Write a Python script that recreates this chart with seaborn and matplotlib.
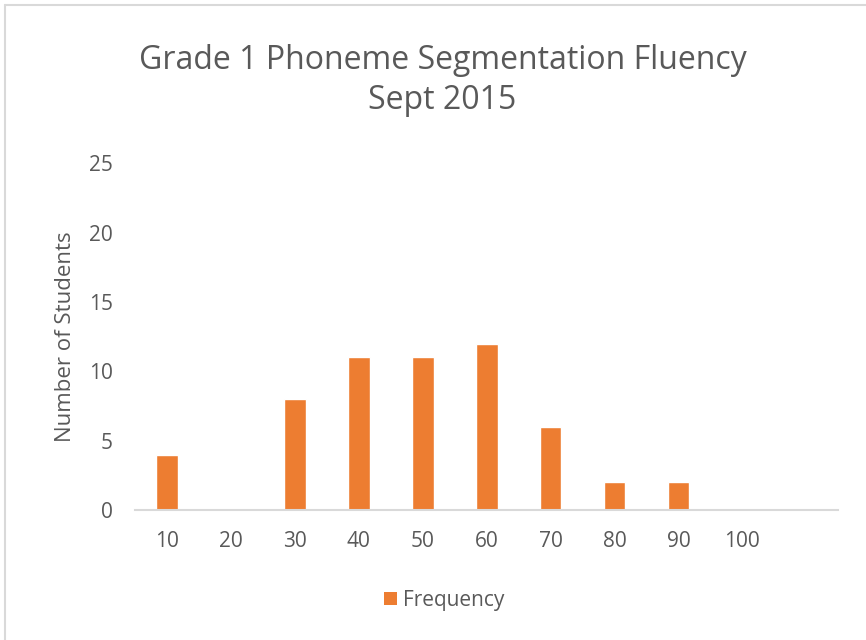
import numpy as np
import pandas as pd
import matplotlib.pyplot as plt
import seaborn as sns
from matplotlib.patches import Patch
from matplotlib.lines import Line2D

# data
bins = ["10", "20", "30", "40", "50", "60", "70", "80", "90", "100", ""]
frequency = [4, 0, 8, 11, 11, 12, 6, 2, 2, 0, 0]

title = "Grade 1 Phoneme Segmentation Fluency\nSept 2015"
bar_color = "#ED7D31"
text_color = "#595959"

sns.set_style("white")
plt.rcParams['font.family'] = ['Open Sans', 'DejaVu Sans']

df = pd.DataFrame({"bin": bins, "Frequency": frequency})

fig = plt.figure(figsize=(8.66, 6.4), dpi=100)
ax = fig.add_axes([0.156, 0.203, 0.812, 0.542])

sns.barplot(data=df, x="bin", y="Frequency", color=bar_color, width=0.34,
            saturation=1, ax=ax)

ax.set_ylim(0, 25)
ax.set_yticks([0, 5, 10, 15, 20, 25])
ax.set_xlim(-0.5, len(bins) - 0.5)
sns.despine(ax=ax, left=True)
ax.spines['bottom'].set_color("#d9d9d9")
ax.spines['bottom'].set_linewidth(1.5)
ax.tick_params(axis='both', length=0, labelsize=15, colors=text_color)
ax.tick_params(axis='y', pad=16)
ax.tick_params(axis='x', pad=15)
ax.set_xlabel("")
ax.set_ylabel("Number of Students", fontsize=16, color=text_color, labelpad=9)

fig.text(0.511, 0.932, title, ha='center', va='top', fontsize=23,
         color=text_color, linespacing=1.3)

handles = [Patch(facecolor=bar_color, edgecolor='none', label="Frequency")]
fig.legend(handles=handles, loc='center', bbox_to_anchor=(0.513, 0.062),
           frameon=False, fontsize=15, labelcolor=text_color,
           handlelength=0.6, handleheight=0.6, handletextpad=0.3)

# chart frame edges visible in the screenshot
fig.add_artist(Line2D([0.006, 0.006], [0, 0.992], color="#d9d9d9", lw=1.5,
                      transform=fig.transFigure))
fig.add_artist(Line2D([0.006, 1], [0.992, 0.992], color="#d9d9d9", lw=1.5,
                      transform=fig.transFigure))

fig.savefig("out.png", dpi=100)
